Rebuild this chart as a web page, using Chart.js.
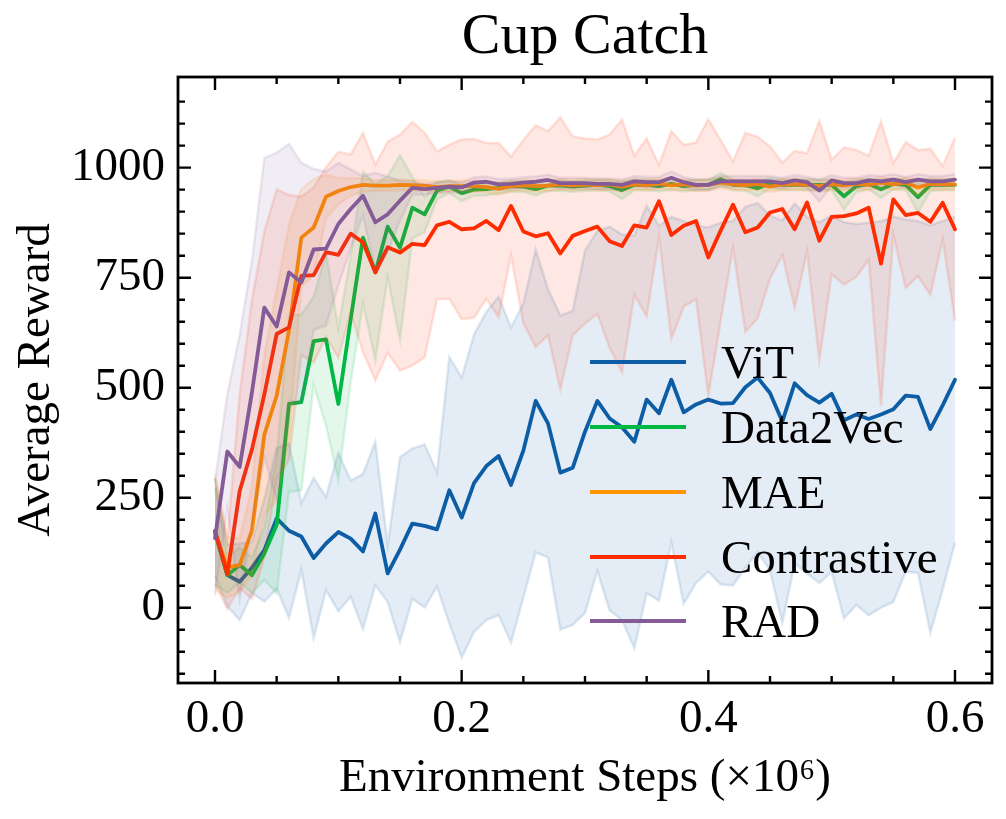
<!DOCTYPE html>
<html><head><meta charset="utf-8">
<script src="https://cdn.jsdelivr.net/npm/chart.js@4"></script>
<style>html,body{margin:0;padding:0;background:#fff;} #wrap{width:1006px;height:819px;}</style>
</head><body><div id="wrap"><canvas id="c" width="1006" height="819"></canvas></div>
<script>
// ---------- data ----------
const steps = [0.00,0.01,0.02,0.03,0.04,0.05,0.06,0.07,0.08,0.09,
  0.10,0.11,0.12,0.13,0.14,0.15,0.16,0.17,0.18,0.19,
  0.20,0.21,0.22,0.23,0.24,0.25,0.26,0.27,0.28,0.29,
  0.30,0.31,0.32,0.33,0.34,0.35,0.36,0.37,0.38,0.39,
  0.40,0.41,0.42,0.43,0.44,0.45,0.46,0.47,0.48,0.49,
  0.50,0.51,0.52,0.53,0.54,0.55,0.56,0.57,0.58,0.59,
  0.60];

const vitMean = [172,74,59,91,131,203,175,162,113,146,
  172,157,128,214,78,132,191,186,178,267,
  205,283,322,345,279,357,470,419,307,318,
  400,470,430,410,377,473,442,518,444,462,
  473,464,465,501,523,488,423,510,483,466,
  486,426,439,429,439,451,482,479,406,460,
  518];
const vitStd = [100,70,87,58,117,160,198,76,182,106,
  180,132,176,163,65,210,171,185,130,303,
  318,338,350,362,358,334,344,305,357,357,
  412,386,436,438,469,440,426,370,435,406,
  391,411,414,410,397,403,457,409,405,410,
  405,450,433,446,439,438,400,400,463,419,
  370];

const d2vMean = [172,74,97,74,123,188,463,467,606,610,
  463,655,841,762,866,818,909,894,948,957,
  942,950,951,954,958,957,951,959,960,957,
  959,961,958,949,961,961,958,963,958,961,
  961,974,961,960,953,965,961,961,961,961,
  961,935,958,963,951,963,961,933,961,961,
  961];
const d2vStd = [120,40,40,40,60,155,200,200,100,196,
  173,144,150,200,115,210,70,40,20,15,
  18,14,14,12,12,12,14,12,12,12,
  12,12,12,20,12,12,12,12,12,12,
  12,14,12,12,18,12,12,12,12,12,
  12,30,14,12,20,12,12,35,14,12,
  12];

const maeMean = [172,92,97,176,393,482,630,841,864,934,
  947,956,961,959,959,961,960,959,956,958,
  958,958,956,952,958,960,958,959,962,960,
  962,960,962,957,962,960,964,960,962,959,
  961,966,962,960,963,957,962,962,961,958,
  962,960,963,961,966,962,966,955,963,962,
  962];
const maeStd = [130,70,60,100,180,240,240,110,110,50,
  30,20,15,12,12,12,12,12,12,12,
  12,12,12,14,12,12,12,12,12,12,
  12,12,12,12,12,12,12,12,12,12,
  12,12,12,12,12,12,12,12,12,12,
  12,12,12,12,12,12,12,18,12,12,
  12];

const conMean = [175,77,265,360,485,622,637,754,756,808,
  802,850,830,762,819,807,827,824,869,877,
  860,862,879,858,913,855,844,851,805,845,
  856,866,833,822,869,864,924,847,868,879,
  796,857,916,853,864,898,906,860,921,834,
  888,890,896,909,782,928,892,897,877,920,
  860];
const conStd = [120,80,220,340,370,329,301,180,199,193,
  234,180,249,245,240,268,277,255,168,175,
  204,203,177,198,112,208,252,232,309,226,
  210,198,242,287,158,202,82,236,184,178,
  314,205,98,226,206,150,105,178,112,272,
  130,156,144,118,323,82,166,143,166,84,
  208];

const radMean = [158,355,320,490,682,639,762,739,814,816,
  872,906,936,876,894,925,954,951,954,957,
  955,966,968,962,963,966,968,972,965,965,
  965,963,963,961,969,967,967,977,967,961,
  961,969,969,969,969,969,965,971,967,948,
  971,965,965,971,969,973,967,973,969,969,
  973];
const radStd = [130,130,300,300,340,395,292,272,183,175,
  139,90,45,112,86,45,15,12,12,12,
  12,12,12,12,12,12,12,12,12,12,
  12,12,12,12,12,12,12,14,12,12,
  12,12,12,12,12,12,12,12,12,25,
  12,12,12,12,12,12,12,12,12,12,
  12];

const seriesNames = ['ViT','Data2Vec','MAE','Contrastive','RAD'];
const seriesColors = ['#0C5DA5','#00B945','#FF9500','#FF2C00','#845B97'];
const xTickVals = [0.0, 0.2, 0.4, 0.6];
const xTickLabels = ['0.0','0.2','0.4','0.6'];
const xMinorVals = [0.0,0.05,0.1,0.15,0.2,0.25,0.3,0.35,0.4,0.45,0.5,0.55,0.6];
const yTickVals = [0, 250, 500, 750, 1000];
const yTickLabels = ['0','250','500','750','1000'];
const yMinorVals = [-150,-100,-50,0,50,100,150,200,250,300,350,400,450,500,550,600,650,700,750,800,850,900,950,1000,1050,1100,1150];
const titleText = 'Cup Catch';
const xLabel = 'Environment Steps (\u00D710\u2076)';
const yLabel = 'Average Reward';

// ---------- build ----------
const FONT = "'Liberation Serif', 'DejaVu Serif', serif";
function rgba(hex, a) {
  const n = parseInt(hex.slice(1), 16);
  return `rgba(${(n >> 16) & 255},${(n >> 8) & 255},${n & 255},${a})`;
}
const means = [vitMean, d2vMean, maeMean, conMean, radMean];
const stds = [vitStd, d2vStd, maeStd, conStd, radStd];
const datasets = [];
seriesNames.forEach((name, k) => {
  const c = seriesColors[k];
  datasets.push({label: name + ' lo', data: steps.map((x, i) => ({x, y: means[k][i] - stds[k][i]})),
    borderColor: rgba(c, 0.13), borderWidth: 2.6, pointRadius: 0, fill: false});
  datasets.push({label: name + ' hi', data: steps.map((x, i) => ({x, y: means[k][i] + stds[k][i]})),
    borderColor: rgba(c, 0.13), backgroundColor: rgba(c, 0.11), borderWidth: 2.6, pointRadius: 0, fill: '-1'});
  datasets.push({label: name, data: steps.map((x, i) => ({x, y: means[k][i]})),
    borderColor: c, borderWidth: 3.8, pointRadius: 0, fill: false,
    borderJoinStyle: 'round', borderCapStyle: 'round'});
});
datasets.forEach((d, i) => { d.order = datasets.length - i; });

const decor = {
  id: 'decor',
  afterDatasetsDraw(chart) {
    const {ctx, chartArea: a, scales: {x, y}} = chart;
    ctx.save();
    ctx.strokeStyle = '#000';
    ctx.lineWidth = 2.4;
    ctx.lineCap = 'butt';
    ctx.beginPath();
    xMinorVals.forEach(v => {
      const p = x.getPixelForValue(v);
      const len = xTickVals.some(t => Math.abs(t - v) < 1e-9) ? 13 : 7;
      ctx.moveTo(p, a.bottom); ctx.lineTo(p, a.bottom - len);
      ctx.moveTo(p, a.top); ctx.lineTo(p, a.top + len);
    });
    yMinorVals.forEach(v => {
      const p = y.getPixelForValue(v);
      const len = yTickVals.includes(v) ? 13 : 7;
      ctx.moveTo(a.left, p); ctx.lineTo(a.left + len, p);
      ctx.moveTo(a.right, p); ctx.lineTo(a.right - len, p);
    });
    ctx.stroke();
    ctx.lineWidth = 2.8;
    ctx.strokeRect(a.left, a.top, a.right - a.left, a.bottom - a.top);
    ctx.restore();
  },
  afterDraw(chart) {
    const {ctx, chartArea: a} = chart;
    ctx.save();
    ctx.fillStyle = '#000';
    ctx.textAlign = 'center';
    ctx.textBaseline = 'alphabetic';
    ctx.font = `58px ${FONT}`;
    ctx.fillText(titleText, (a.left + a.right) / 2, 53);
    // legend
    const rowY = [362, 427, 492, 557, 621];
    ctx.font = `47px ${FONT}`;
    ctx.textAlign = 'left';
    seriesNames.forEach((name, k) => {
      ctx.strokeStyle = seriesColors[k];
      ctx.lineWidth = 3.8;
      ctx.beginPath();
      ctx.moveTo(590, rowY[k]); ctx.lineTo(686, rowY[k]);
      ctx.stroke();
      ctx.fillText(name, 721, rowY[k] + 15.5);
    });
    ctx.restore();
  }
};

Chart.defaults.font.family = FONT;
Chart.defaults.color = '#000';
new Chart(document.getElementById('c'), {
  type: 'line',
  data: {datasets},
  options: {
    responsive: false, animation: false, devicePixelRatio: 1,
    layout: {padding: {left: 0, right: 14, top: 77, bottom: 0}},
    plugins: {legend: {display: false}, tooltip: {enabled: false}, title: {display: false}},
    scales: {
      x: {
        type: 'linear', min: -0.03, max: 0.63,
        afterBuildTicks: s => { s.ticks = xTickVals.map(v => ({value: v})); },
        afterFit: s => { s.height = 136; },
        grid: {display: false, drawTicks: false}, border: {display: false},
        ticks: {autoSkip: false, maxRotation: 0, padding: 8, color: '#000', font: {size: 47},
          callback: (v, i) => xTickLabels[i]},
        title: {display: true, text: xLabel, color: '#000', font: {size: 47}, padding: {top: 0, bottom: 12}}
      },
      y: {
        type: 'linear', min: -171, max: 1206,
        afterBuildTicks: s => { s.ticks = yTickVals.map(v => ({value: v})); },
        afterFit: s => { s.width = 178; },
        grid: {display: false, drawTicks: false}, border: {display: false},
        ticks: {autoSkip: false, padding: 13, color: '#000', font: {size: 47},
          callback: (v, i) => yTickLabels[i]},
        title: {display: true, text: yLabel, color: '#000', font: {size: 47}, padding: {top: 8, bottom: 0}}
      }
    }
  },
  plugins: [decor]
});
</script>
</body></html>
